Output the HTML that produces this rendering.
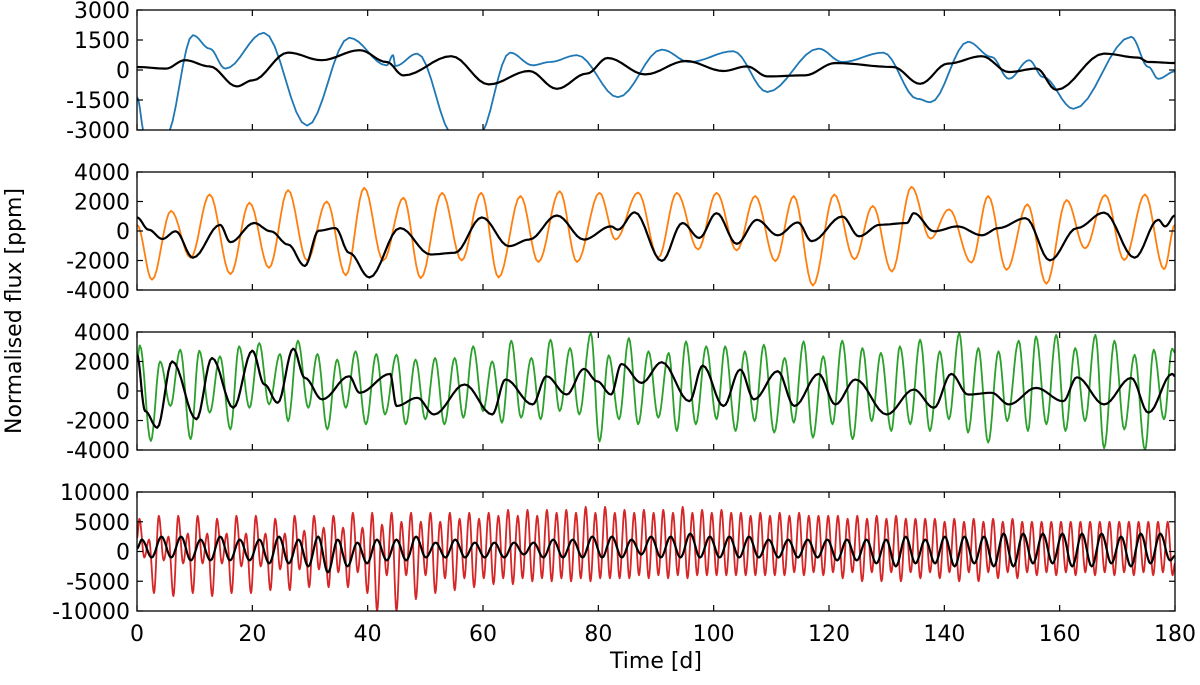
<!DOCTYPE html>
<html><head><meta charset="utf-8"><style>
body{margin:0;background:#fff;}
svg text{font-family:"DejaVu Sans","Liberation Sans",sans-serif;}
</style></head><body>
<svg id="chart" width="1200" height="680" viewBox="0 0 1200 680" xmlns="http://www.w3.org/2000/svg"></svg>
<script>
// ---- data (days, ppm) ----
const xTicks=[0,20,40,60,80,100,120,140,160,180];
const p1Ticks=[3000,1500,0,-1500,-3000];
const p2Ticks=[4000,2000,0,-2000,-4000];
const p3Ticks=[4000,2000,0,-2000,-4000];
const p4Ticks=[10000,5000,0,-5000,-10000];

const blueT=[0,1.4,5,9.7,12.6,15.3,22,29.5,36.8,43.3,44.4,44.8,48.6,55,59.2,64.7,68.6,71.6,76.3,83.4,91,95.8,103.4,109.3,118.2,122.3,129.4,135.3,137.6,144.1,148.2,151.2,154.7,157.1,162.4,172.4,175.4,177.1,180];
const blueV=[-1360,-3300,-3300,1740,1070,70,1860,-2780,1610,230,740,200,820,-3300,-3300,870,235,400,740,-1360,1020,400,940,-1100,1070,400,870,-1440,-1610,1410,650,-440,490,-350,-1940,1660,150,-440,-70];
const k1T=[0,5,8.3,12.6,17.3,20,26.2,32,38.6,43.3,46.2,54.5,61,68,72.8,78,81.6,88.1,95.2,101.7,105.8,109.3,115.8,121.1,131.1,135.8,140.6,146.5,151.2,156,159.4,167.7,173.6,175.4,180];
const k1V=[150,70,490,180,-820,-520,870,490,990,400,-270,690,-720,-50,-940,-180,600,-220,450,-50,180,-320,-270,350,150,-690,320,690,-100,70,-990,820,620,400,350];

const orangeT=[0,2.6,5.9,9.3,12.6,16.2,19.5,22.9,26.2,29.5,32.9,36.2,39.4,42.7,46.2,49.2,52.9,56.3,59.7,62.7,66.5,69.6,73.3,76.3,80.2,83,86.9,90.4,93.6,97.3,100.5,104,107.2,110.7,113.9,117.2,120.9,124.4,127.6,130.9,134.3,137.6,140.8,144.7,147.6,150.8,154.4,157.7,161.2,164.4,167.9,171.2,174.8,178.1,180];
const orangeV=[425,-3300,1360,-1810,2480,-2930,1920,-2500,2770,-2000,2000,-3000,2930,-2000,2260,-3200,2590,-2000,2590,-3150,2370,-2100,2700,-2100,2590,-580,2610,-1810,2590,-1250,2590,-1320,2370,-2040,2370,-3700,2480,-1920,1700,-2750,3000,-520,1470,-2150,2370,-2640,1810,-3580,2100,-1180,2440,-1970,2480,-2590,425];
const k2T=[0,2,4.4,6.7,9.7,14.4,16.2,20.3,23.2,26.2,29.1,31.5,34.4,36.8,40.3,45.6,50.9,55.1,59.8,64.5,68,72.8,77.5,82.2,83.4,86.3,91,94.6,97.5,100.5,104,107.5,111.1,114.6,117,122.3,125.2,128.8,133.5,134.7,138.2,142.3,146.5,149.4,154.1,158.3,163,167.7,173,177.1,178.3,180];
const k2V=[920,90,-540,-20,-1810,420,-760,540,-20,-920,-2370,20,200,-1480,-3150,200,-1590,-1480,920,-1030,-580,1050,-580,310,90,1270,-2030,540,-470,1210,-870,760,-290,580,-690,980,-360,420,540,1210,-20,310,-290,200,870,-1990,200,1250,-1810,760,310,1050];

const greenT=[0,0.5,2.4,4,5.8,7.5,9.3,10.8,12.6,14.4,16.2,17.7,19.5,21.2,22.9,24.8,26.2,27.9,29.7,31.3,33,34.7,36.2,37.9,39.7,41.5,43,45,46.6,48.3,50,51.7,53.3,55.1,56.6,58.3,60,61.6,63.3,64.9,66.6,68.4,70,71.7,73.3,75.1,76.7,78.7,80.2,81.8,83.6,85.3,86.9,88.7,90.4,92.2,93.6,95.2,96.9,98.7,100.5,102,103.8,105.4,107.1,108.7,110.5,112.3,113.9,115.6,117.2,119,120.6,122.3,124.1,125.8,127.4,129,130.8,132.3,134.1,135.8,137.5,139.2,140.8,142.6,144.1,145.9,147.6,149.4,150.9,152.9,154.5,155.9,157.7,159.4,161,162.7,164.4,166.2,167.7,169.5,171.2,173,174.8,176.3,178.1,179.5,180];
const greenV=[2000,3090,-3390,2010,-1020,2800,-3270,2730,-1470,2350,-2600,3030,-1140,3250,-910,2510,-2040,3410,-1140,2510,-2600,2130,-1140,2690,-2260,2510,-1590,2460,-2260,2130,-1920,2240,-2260,2240,-1810,3030,-1360,2010,-2150,3410,-1810,2240,-1920,3480,-1360,2910,-1590,3930,-3430,2420,-1920,3590,-2260,2690,-1810,2580,-2710,3360,-2260,3030,-1920,3030,-2710,2690,-2040,3140,-2820,2240,-2150,3360,-3160,2350,-2260,3410,-3270,2910,-2040,2580,-2710,3030,-2260,3480,-2710,2690,-1920,3930,-2820,2910,-3500,2690,-2040,3410,-2710,3700,-2260,3810,-2710,2910,-2040,3810,-3880,3410,-2600,2460,-4000,2800,-1920,2870,2600];
const k3T=[0,1.4,3.5,6.1,10.3,13,16.7,20,22.1,24.4,27.1,29.1,32.1,36.8,38.6,43.9,45,48.6,51.5,56.8,61.6,63.9,68.6,71,74.5,77.5,79.8,82.2,84,87.5,91,95.8,98.1,101.7,104.6,107,111.1,114,118.2,121.1,124.6,130,134.7,138.2,141.2,144.1,148.2,151.2,155.9,160.6,163,167.7,172.4,175.4,179.5,180];
const k3V=[2460,-1360,-2490,2010,-1920,2240,-1140,2730,440,-800,2870,890,-570,1000,-120,1160,-1020,-460,-1590,440,-1590,780,-910,1000,-240,1500,660,-240,1830,550,1950,-690,1720,-1020,1450,-570,1340,-1020,1160,-910,780,-1590,100,-1140,1160,-240,-120,-910,210,-690,930,-910,890,-1470,1160,1000];

const redPeriod=180/107;
const redPeaks=[5500,2000,6000,2500,6000,3000,6000,3000,5500,3000,6000,3000,6000,3000,5500,3000,6000,3500,6000,4000,6000,4000,6500,4000,
6500,4500,6500,5000,6500,5000,6500,5000,6500,5500,6500,5500,
6500,6000,7000,6000,7000,6000,7000,6500,7000,6500,7500,6500,7500,6500,7000,6500,7000,6500,7000,6500,7500,6500,7000,6500,
7000,6500,6500,6000,6500,6000,6500,6000,6500,6000,6000,6000,6000,5500,6000,5500,6000,5500,6000,5500,5500,5500,5500,5000,
5500,5000,5500,5000,5500,5000,5500,5000,5000,5000,5000,5000,5000,5000,5000,5000,5000,5000,5000,5000,5000,5000,5000];
const redTroughs=[-1000,-7000,-1500,-7500,-2000,-7000,-2000,-7500,-2000,-7000,-2500,-7000,-2500,-6500,-3000,-6500,-3000,-6000,-3000,-6000,-3500,-6000,-3500,-7000,
-10000,-4000,-10000,-4000,-8000,-4000,-7000,-4500,-6500,-4500,-6000,-4500,
-5500,-4500,-5500,-4500,-5000,-4500,-5000,-4500,-5000,-4500,-5000,-4500,-4500,-4500,-4500,-4000,-4500,-4000,-4500,-4000,-4500,-4000,-4000,-4000,
-4000,-4000,-4000,-4000,-4000,-4000,-4000,-3500,-4000,-3500,-4000,-3500,-4500,-3500,-5000,-3500,-5000,-3500,-5000,-3500,-4500,-3500,-4500,-3500,
-5000,-3500,-5000,-3500,-4500,-3500,-4500,-3500,-4000,-3500,-4000,-3500,-4000,-3500,-4000,-3500,-4000,-3500,-4000,-3500,-4000,-3500,-4000];
const k4Period=180/53;
const k4Peaks=[2000,2500,2500,2000,2500,2000,2000,2500,2000,2500,2000,1500,2000,2000,2500,1500,2000,1500,1500,1500,1500,2000,2000,2500,2500,2000,2500,2500,3000,2500,2500,2500,2000,2000,2000,2000,2000,2000,2000,2500,2000,2500,2500,2500,3000,3000,3000,3000,3000,3000,2500,3000,3000];
const k4Troughs=[-1000,-1000,-1500,-1500,-1500,-1500,-2000,-2000,-2500,-3500,-2500,-2000,-1500,-1500,-1000,-1000,-1000,-1000,-1000,-500,-1000,-1000,-1000,-1000,-1000,-500,-1000,-1000,-1000,-1000,-1000,-1000,-1000,-1000,-1000,-1500,-1500,-2000,-2500,-2000,-2000,-2500,-2000,-2500,-2500,-2000,-2000,-2500,-2500,-2000,-2500,-2000,-1500];

// ---- layout ----
const NS="http://www.w3.org/2000/svg";
const svg=document.getElementById('chart');
const X0=137,X1=1175;
const panels=[
 {top:10,bot:130,min:-3000,max:3000,ticks:p1Ticks,name:'panel-1'},
 {top:172,bot:290,min:-4000,max:4000,ticks:p2Ticks,name:'panel-2'},
 {top:332,bot:450,min:-4000,max:4000,ticks:p3Ticks,name:'panel-3'},
 {top:492,bot:611,min:-10000,max:10000,ticks:p4Ticks,name:'panel-4'}];
const xs=t=>X0+(t-0)/(180-0)*(X1-X0);
function mk(tag,attrs,parent){const e=document.createElementNS(NS,tag);for(const k in attrs)e.setAttribute(k,attrs[k]);(parent||svg).appendChild(e);return e;}
function ysFn(p){return v=>p.bot-(v-p.min)/(p.max-p.min)*(p.bot-p.top);}

function smoothPath(T,V,ys){
  let d='';
  for(let i=0;i<T.length-1;i++){
    const n=8;
    for(let j=(i===0?0:1);j<=n;j++){
      const s=j/n,w=(1-Math.cos(Math.PI*s))/2;
      const t=T[i]+(T[i+1]-T[i])*s,v=V[i]+(V[i+1]-V[i])*w;
      d+=(d?'L':'M')+xs(t).toFixed(1)+','+ys(v).toFixed(1);
    }
  }
  return d;
}
function merge(period,peaks,troughs){
  const T=[0],V=[(peaks[0]+troughs[0])/2];
  for(let i=0;i<peaks.length;i++){
    const tp=(i+0.25)*period, tt=(i+0.75)*period;
    if(tp<=180){T.push(tp);V.push(peaks[i]);}
    if(tt<=180&&i<troughs.length){T.push(tt);V.push(troughs[i]);}
  }
  T.push(180);V.push(V[V.length-1]*0.5);
  return [T,V];
}
const red=merge(redPeriod,redPeaks,redTroughs);
const k4=merge(k4Period,k4Peaks,k4Troughs);
const series=[
 [[blueT,blueV,'#1f77b4','blue-series'],[k1T,k1V,'#000','black-series-1']],
 [[orangeT,orangeV,'#ff7f0e','orange-series'],[k2T,k2V,'#000','black-series-2']],
 [[greenT,greenV,'#2ca02c','green-series'],[k3T,k3V,'#000','black-series-3']],
 [[red[0],red[1],'#d62728','red-series'],[k4[0],k4[1],'#000','black-series-4']]];

panels.forEach((p,pi)=>{
  const g=mk('g',{});
  
  
  const ys=ysFn(p);
  const cp=mk('clipPath',{id:'cp'+pi},g);
  mk('rect',{x:X0,y:p.top,width:X1-X0,height:p.bot-p.top},cp);
  series[pi].forEach(s=>{
    const path=mk('path',{d:smoothPath(s[0],s[1],ys),fill:'none',stroke:s[2],'stroke-width':s[2]==='#000'?2.2:1.8,'stroke-linejoin':'round','clip-path':'url(#cp'+pi+')'},g);
    
    
  });
  const fr=mk('rect',{x:X0,y:p.top,width:X1-X0,height:p.bot-p.top,fill:'none',stroke:'#000','stroke-width':1.3},g);
  
  
  xTicks.forEach(t=>{
    mk('line',{x1:xs(t),x2:xs(t),y1:p.bot,y2:p.bot-6,stroke:'#000','stroke-width':1.2},g);
    mk('line',{x1:xs(t),x2:xs(t),y1:p.top,y2:p.top+6,stroke:'#000','stroke-width':1.2},g);
  });
  p.ticks.forEach(v=>{
    mk('line',{x1:X0,x2:X0+6,y1:ys(v),y2:ys(v),stroke:'#000','stroke-width':1.2},g);
    mk('line',{x1:X1,x2:X1-6,y1:ys(v),y2:ys(v),stroke:'#000','stroke-width':1.2},g);
    const tx=mk('text',{x:130,y:ys(v)+8,'text-anchor':'end','font-size':22,fill:'#000'},g);
    tx.textContent=String(v);
    
    
  });
});
xTicks.forEach(t=>{
  const tx=mk('text',{x:xs(t),y:641,'text-anchor':'middle','font-size':22,fill:'#000'});
  tx.textContent=String(t);
  
  
});
const xt=mk('text',{x:656,y:668,'text-anchor':'middle','font-size':22,fill:'#000'});
xt.textContent='Time [d]';


const yt=mk('text',{x:0,y:0,'text-anchor':'middle','font-size':22,fill:'#000',transform:'translate(21,311) rotate(-90)'});
yt.textContent='Normalised flux [ppm]';


</script>
</body></html>
